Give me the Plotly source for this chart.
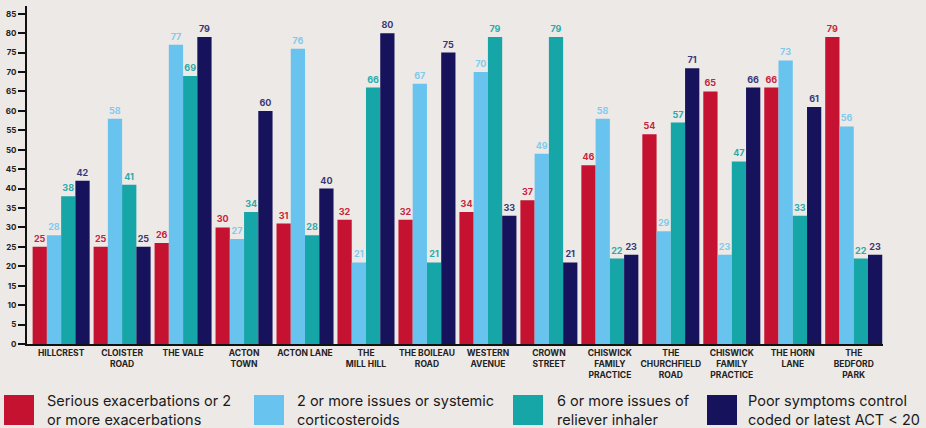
import plotly.graph_objects as go

categories = ["HILLCREST", "CLOISTER<br>ROAD", "THE VALE", "ACTON<br>TOWN", "ACTON LANE",
              "THE<br>MILL HILL", "THE BOILEAU<br>ROAD", "WESTERN<br>AVENUE", "CROWN<br>STREET",
              "CHISWICK<br>FAMILY<br>PRACTICE", "THE<br>CHURCHFIELD<br>ROAD",
              "CHISWICK<br>FAMILY<br>PRACTICE", "THE HORN<br>LANE", "THE<br>BEDFORD<br>PARK"]

serious_exac = [25, 25, 26, 30, 31, 32, 32, 34, 37, 46, 54, 65, 66, 79]
systemic_cs = [28, 58, 77, 27, 76, 21, 67, 70, 49, 58, 29, 23, 73, 56]
reliever = [38, 41, 69, 34, 28, 66, 21, 79, 79, 22, 57, 47, 33, 22]
poor_control = [42, 25, 79, 60, 40, 80, 75, 33, 21, 23, 71, 66, 61, 23]

series_names = ["Serious exacerbations or 2<br>or more exacerbations",
                "2 or more issues or systemic<br>corticosteroids",
                "6 or more issues of<br>reliever inhaler",
                "Poor symptoms control<br>coded or latest ACT < 20"]
series_values = [serious_exac, systemic_cs, reliever, poor_control]
colors = ["#C41230", "#68C3EE", "#17A6A8", "#16125C"]
label_colors = ["#C8243C", "#7FCBF0", "#2AABAB", "#3A3878"]

y_ticks = list(range(0, 90, 5))

BG = "#EDE9E6"
W, H = 926, 428
L, R, T, B = 27, 43, 6, 84
pw, ph = W - L - R, H - T - B

def px_x(x):
    return (x - L) / pw

def px_y(y):
    return (H - B - y) / ph

x = list(range(len(categories)))
fig = go.Figure()
for name, vals, c, lc in zip(series_names, series_values, colors, label_colors):
    fig.add_trace(go.Bar(
        x=x, y=vals, name=name, marker=dict(color=c, line=dict(width=0)),
        text=[str(v) for v in vals], textposition="outside",
        textfont=dict(family="Inter", size=9, color=lc, weight="bold"),
        cliponaxis=False, constraintext="none", showlegend=False,
    ))

fig.update_layout(
    width=W, height=H, barmode="group", bargap=0.065, bargroupgap=0,
    paper_bgcolor=BG, plot_bgcolor=BG,
    margin=dict(l=L, r=R, t=T, b=B),
    font=dict(family="Inter", color="#222222"),
)
fig.update_xaxes(
    range=[-0.56, 13.48], tickvals=x, ticktext=categories,
    tickfont=dict(family="Inter", size=8.5, color="#222222", weight="bold"),
    showline=True, linecolor="#111111", linewidth=2, ticks="", showgrid=False,
    zeroline=False, fixedrange=True,
)
fig.update_yaxes(
    range=[0, 87], tickvals=y_ticks, ticktext=[str(v) for v in y_ticks],
    tickfont=dict(family="Inter", size=8, color="#222222", weight="bold"),
    showline=True, linecolor="#111111", linewidth=2, ticks="outside", ticklen=7,
    tickwidth=1.5, tickcolor="#111111", showgrid=False, zeroline=False,
)

# Legend drawn as large squares with text
leg_sq_x = [4, 254, 513, 707]
leg_txt_x = [45, 295, 555, 746]
for sx, tx, name, c in zip(leg_sq_x, leg_txt_x, series_names, colors):
    fig.add_shape(type="rect", xref="paper", yref="paper",
                  x0=px_x(sx), x1=px_x(sx + 30), y0=px_y(425), y1=px_y(395),
                  fillcolor=c, line=dict(width=0))
    fig.add_annotation(xref="paper", yref="paper", x=px_x(tx), y=px_y(410),
                       xanchor="left", yanchor="middle", align="left",
                       text=name, showarrow=False,
                       font=dict(family="Inter", size=14.5, color="#1a1a1a"))

fig.write_html("out.html")
